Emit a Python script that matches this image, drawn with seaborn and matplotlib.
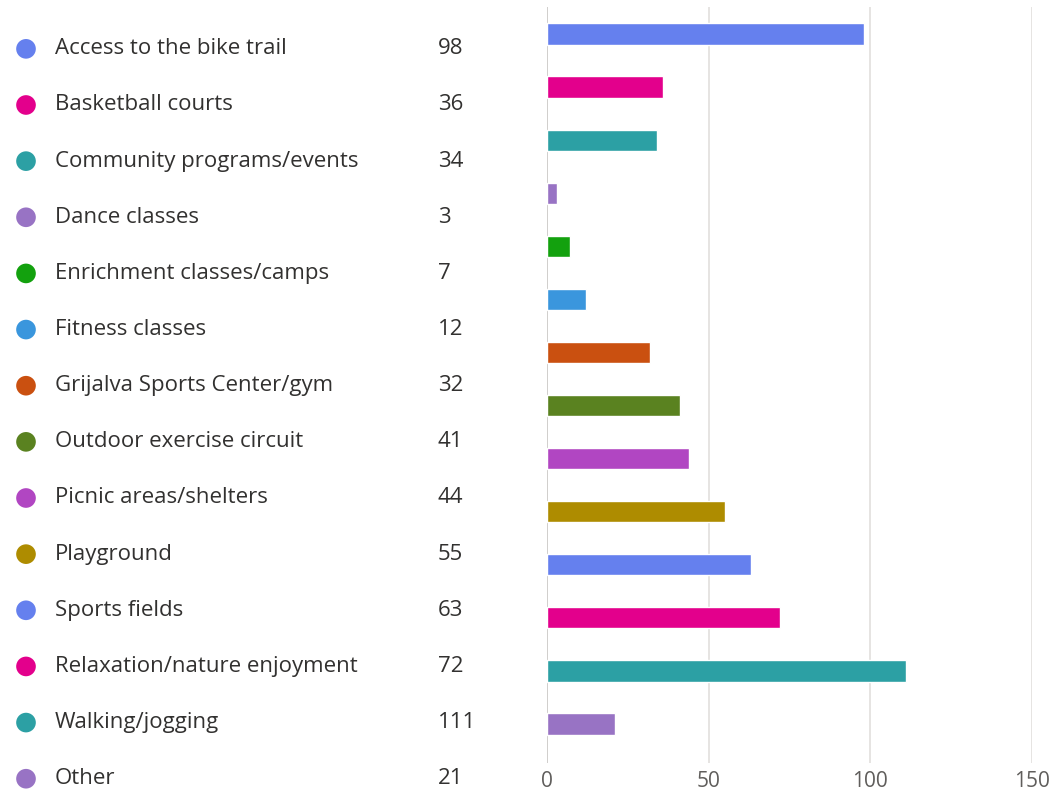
import numpy as np
import pandas as pd
import matplotlib.pyplot as plt
import seaborn as sns

# data
categories = [
    "Access to the bike trail", "Basketball courts", "Community programs/events",
    "Dance classes", "Enrichment classes/camps", "Fitness classes",
    "Grijalva Sports Center/gym", "Outdoor exercise circuit", "Picnic areas/shelters",
    "Playground", "Sports fields", "Relaxation/nature enjoyment",
    "Walking/jogging", "Other",
]
counts = [98, 36, 34, 3, 7, 12, 32, 41, 44, 55, 63, 72, 111, 21]
colors = [
    "#6580ee", "#e3008c", "#2ca0a4", "#9873c4", "#13a10e", "#3a96dd", "#ca5010",
    "#5a8220", "#b146c2", "#ae8c00", "#6580ee", "#e3008c", "#2ca0a4", "#9873c4",
]
x_ticks = [0, 50, 100, 150]

df = pd.DataFrame({"category": categories, "count": counts, "idx": np.arange(len(categories))})

sns.set_theme(style="white")
plt.rcParams["font.family"] = ["Open Sans", "DejaVu Sans"]
text_color = "#323130"

W, H = 1063, 795
fig = plt.figure(figsize=(W / 100, H / 100), dpi=100)

# ---- left: legend-like list (dot, label, count) ----
ax_l = fig.add_axes([0, 0, 531 / W, 1])
sns.scatterplot(data=df, x=np.full(len(df), 26), y="idx", hue="category",
                palette=colors, s=200, edgecolor="none", legend=False, ax=ax_l)
for i, (name, n) in enumerate(zip(categories, counts)):
    ax_l.text(55, i, name, va="center", ha="left", fontsize=16, color=text_color)
    ax_l.text(438, i, str(n), va="center", ha="left", fontsize=16, color=text_color)
ax_l.set_xlim(0, 531)
ax_l.set_ylim(13.29, -0.87)
ax_l.axis("off")

# ---- right: horizontal bars ----
ax = fig.add_axes([547 / W, 1 - 763 / H, 485 / W, 756 / H])
sns.barplot(data=df, x="count", y="category", hue="category", palette=colors,
            saturation=1, width=0.4, legend=False, ax=ax, orient="h")
ax.set_xlim(0, 150)
ax.set_ylim(13.735, -0.509)
ax.set_xticks(x_ticks)
ax.set_xticklabels([str(t) for t in x_ticks])
ax.set_yticks([])
ax.set_xlabel("")
ax.set_ylabel("")
for t in x_ticks:
    ax.axvline(t, color="#c8c6c4" if t == 0 else "#e1dfdd", lw=1.2, zorder=0)
for s in ax.spines.values():
    s.set_visible(False)
ax.tick_params(axis="x", length=0, pad=6, labelsize=15, labelcolor="#605e5c")
ax.set_facecolor("none")

fig.savefig("out.png", dpi=100)
